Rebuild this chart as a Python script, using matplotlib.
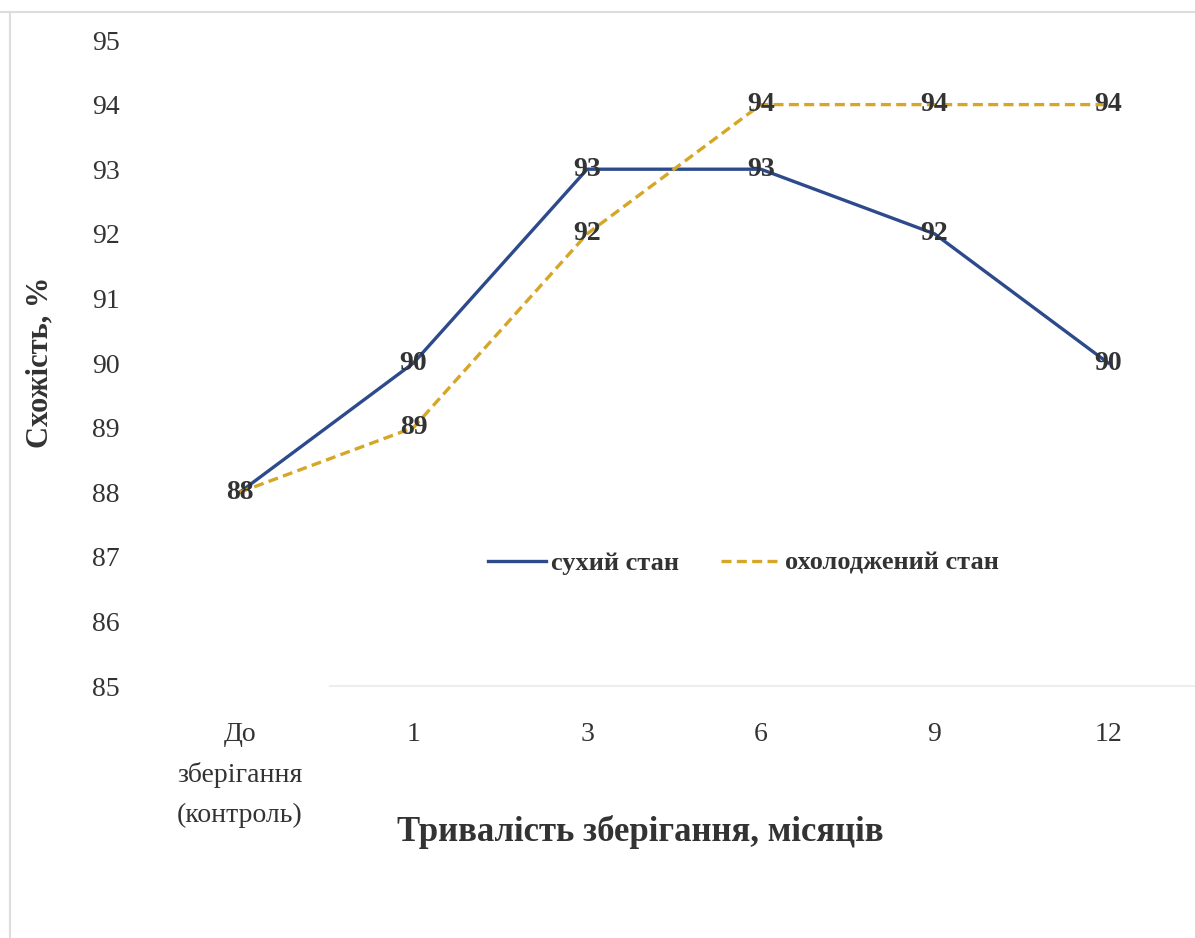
import matplotlib
matplotlib.use("Agg")
import matplotlib.pyplot as plt
from matplotlib.lines import Line2D

categories = ["До\nзберігання\n(контроль)", "1", "3", "6", "9", "12"]
dry = [88, 90, 93, 93, 92, 90]
cooled = [88, 89, 92, 94, 94, 94]
series_names = ["сухий стан", "охолоджений стан"]
yticks = [85, 86, 87, 88, 89, 90, 91, 92, 93, 94, 95]

W, H = 1195, 938
fig = plt.figure(figsize=(W / 100, H / 100), dpi=100)
plt.rcParams['font.family'] = ['Liberation Serif', 'DejaVu Serif']

blue = "#2C4A8C"
gold = "#D6A727"
txt = "#333333"

ax = fig.add_axes([153 / W, 1 - 686 / H, (1195 - 153) / W, (686 - 40) / H])
x = list(range(len(categories)))
ax.plot(x, dry, color=blue, lw=2.4, label=series_names[0], zorder=3)
ax.plot(x, cooled, color=gold, lw=2.4, ls=(0, (3, 1.6)), label=series_names[1], zorder=3)

for xi, v in zip(x, dry):
    ax.text(xi, v, f"{v}", ha="center", va="center", fontsize=20, fontweight="bold", color=txt, zorder=4)
for xi, v in zip(x, cooled):
    if xi != 0:
        ax.text(xi, v, f"{v}", ha="center", va="center", fontsize=20, fontweight="bold", color=txt, zorder=4)

ax.set_xlim(-0.5, len(categories) - 0.5)
ax.set_ylim(85, 95)
ax.set_yticks(yticks)
ax.set_yticklabels([str(t) for t in yticks], fontsize=20, color=txt)
ax.set_xticks(x)
ax.set_xticklabels(categories, fontsize=20, color=txt, linespacing=1.75)
ax.tick_params(axis="y", length=0, pad=24)
ax.tick_params(axis="x", length=0, pad=26)
for s in ax.spines.values():
    s.set_visible(False)

fig.text(40 / W, 1 - 362 / H, "Схожість, %", rotation=90, ha="center", va="center",
         fontsize=22, fontweight="bold", color=txt)
fig.text(640 / W, 1 - 832 / H, "Тривалість зберігання, місяців", ha="center", va="center",
         fontsize=25, fontweight="bold", color=txt)

leg = ax.legend(loc="center", bbox_to_anchor=((743 - 153) / 1042, (686 - 563) / 646), ncol=2,
                frameon=False, fontsize=19, handlelength=2.2, handletextpad=0.2, columnspacing=1.6)
for t in leg.get_texts():
    t.set_color(txt)
    t.set_fontweight("bold")

# faint frame lines of the original figure box
fig.add_artist(Line2D([0, 1], [1 - 12 / H, 1 - 12 / H], transform=fig.transFigure, color="#dddddd", lw=1.5))
fig.add_artist(Line2D([10 / W, 10 / W], [0, 1 - 12 / H], transform=fig.transFigure, color="#dddddd", lw=1.5))
fig.add_artist(Line2D([330 / W, 1], [1 - 686 / H, 1 - 686 / H], transform=fig.transFigure, color="#eeeeee", lw=1.5))

fig.savefig("out.png", dpi=100)
